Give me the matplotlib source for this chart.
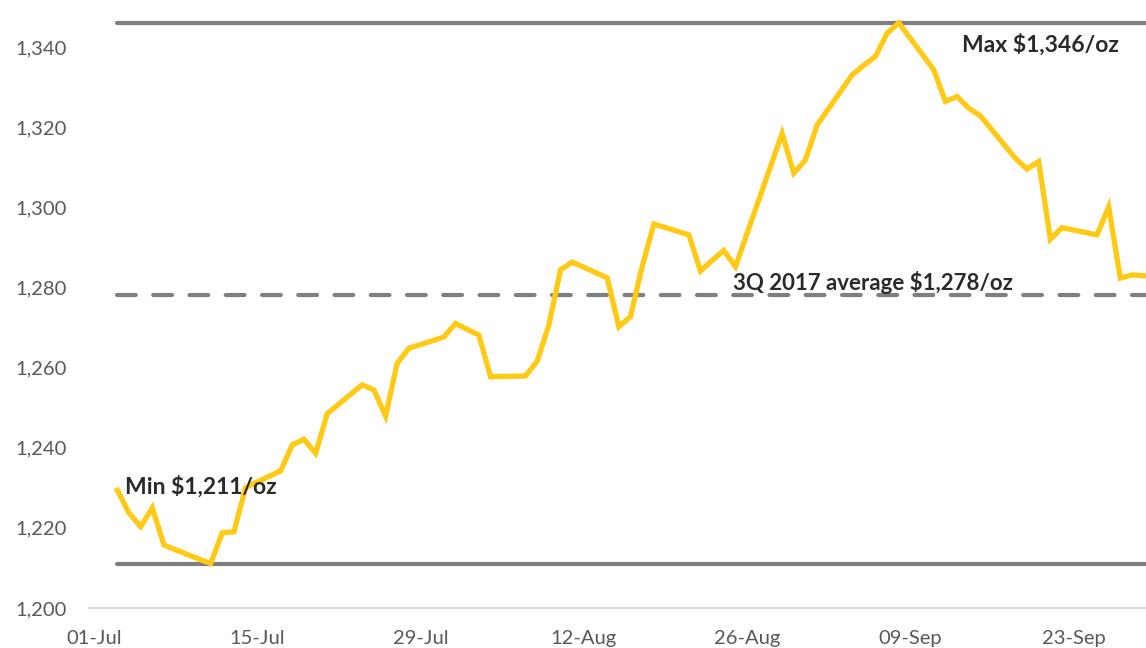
import datetime as dt
import matplotlib
matplotlib.use("Agg")
import matplotlib.pyplot as plt
import matplotlib.dates as mdates
import matplotlib.ticker as ticker

# Gold price, 3Q 2017 (US$/oz), business days
dates = [
    "2017-07-03", "2017-07-04", "2017-07-05", "2017-07-06", "2017-07-07",
    "2017-07-10", "2017-07-11", "2017-07-12", "2017-07-13", "2017-07-14",
    "2017-07-17", "2017-07-18", "2017-07-19", "2017-07-20", "2017-07-21",
    "2017-07-24", "2017-07-25", "2017-07-26", "2017-07-27", "2017-07-28",
    "2017-07-31", "2017-08-01", "2017-08-02", "2017-08-03", "2017-08-04",
    "2017-08-07", "2017-08-08", "2017-08-09", "2017-08-10", "2017-08-11",
    "2017-08-14", "2017-08-15", "2017-08-16", "2017-08-17", "2017-08-18",
    "2017-08-21", "2017-08-22", "2017-08-23", "2017-08-24", "2017-08-25",
    "2017-08-29", "2017-08-30", "2017-08-31", "2017-09-01",
    "2017-09-04", "2017-09-05", "2017-09-06", "2017-09-07", "2017-09-08",
    "2017-09-11", "2017-09-12", "2017-09-13", "2017-09-14", "2017-09-15",
    "2017-09-18", "2017-09-19", "2017-09-20", "2017-09-21", "2017-09-22",
    "2017-09-25", "2017-09-26", "2017-09-27", "2017-09-28", "2017-09-29",
]
prices = [
    1229.4, 1223.7, 1220.3, 1225.0, 1215.7,
    1212.2, 1211.1, 1218.8, 1219.0, 1230.1,
    1234.2, 1240.7, 1242.1, 1238.6, 1248.5,
    1255.7, 1254.4, 1247.9, 1261.1, 1264.8,
    1267.6, 1271.0, 1269.5, 1268.1, 1257.7,
    1257.9, 1261.6, 1270.6, 1284.4, 1286.3,
    1282.4, 1270.2, 1272.7, 1285.2, 1295.8,
    1293.1, 1284.1, 1286.7, 1289.2, 1285.2,
    1318.4, 1308.5, 1311.8, 1320.5,
    1333.0, 1335.4, 1337.6, 1343.4, 1346.0,
    1334.3, 1326.4, 1327.6, 1324.7, 1322.8,
    1312.2, 1309.5, 1311.4, 1292.0, 1294.9,
    1293.1, 1300.1, 1282.3, 1283.1, 1282.9,
]
min_price = 1211
max_price = 1346
avg_price = 1278
tick_dates = ["2017-07-01", "2017-07-15", "2017-07-29", "2017-08-12",
              "2017-08-26", "2017-09-09", "2017-09-23"]
y_ticks = [1200, 1220, 1240, 1260, 1280, 1300, 1320, 1340]

x = [dt.datetime.strptime(d, "%Y-%m-%d") for d in dates]
xt = [dt.datetime.strptime(d, "%Y-%m-%d") for d in tick_dates]

plt.rcParams['font.family'] = ['Lato', 'DejaVu Sans']

fig = plt.figure(figsize=(11.46, 6.48), dpi=100)
ax = fig.add_axes([89 / 1146, 40 / 648, 1 - 89 / 1146, 1 - 40 / 648])

gold = '#FFC914'
grey = '#7F7F7F'
text_dark = '#2B2A26'

# reference lines
ax.plot([x[0], x[-1] + dt.timedelta(days=2)], [max_price, max_price], color=grey,
        lw=3, solid_capstyle='round', zorder=2)
ax.plot([x[0], x[-1] + dt.timedelta(days=2)], [min_price, min_price], color=grey,
        lw=3, solid_capstyle='round', zorder=2)
ax.plot([x[0], x[-1] + dt.timedelta(days=2)], [avg_price, avg_price], color=grey,
        lw=3, dashes=(4.5, 4.2), dash_capstyle='round', zorder=2)

# price line
ax.plot(x, prices, color=gold, lw=3.8, solid_joinstyle='miter', zorder=3)

# axes limits
x0 = mdates.date2num(dt.datetime(2017, 7, 1))
ax.set_xlim(x0 - 0.43, x0 + 90.2)
ax.set_ylim(1200, 1351.7)

ax.set_xticks(xt)
ax.xaxis.set_major_formatter(mdates.DateFormatter('%d-%b'))
ax.set_yticks(y_ticks)
ax.yaxis.set_major_formatter(ticker.FuncFormatter(lambda v, p: f"{v:,.0f}"))
ax.tick_params(axis='both', length=0, labelsize=14.5, labelcolor='#595959')
ax.tick_params(axis='x', pad=16)
ax.tick_params(axis='y', pad=16)

for s in ['top', 'right', 'left']:
    ax.spines[s].set_visible(False)
ax.spines['bottom'].set_color('#D9D9D9')
ax.spines['bottom'].set_linewidth(1.5)

# annotations
ax.text(x0 + 74.4, 1340.5, "Max $1,346/oz", fontsize=16.5, fontweight='bold',
        color=text_dark, ha='left', va='center')
ax.text(x0 + 54.8, 1281.2, "3Q 2017 average $1,278/oz", fontsize=16,
        fontweight='bold', color=text_dark, ha='left', va='center')
ax.text(x0 + 2.66, 1230.4, "Min $1,211/oz", fontsize=16.5, fontweight='bold',
        color=text_dark, ha='left', va='center', zorder=4)

fig.savefig('out.png', dpi=100)
